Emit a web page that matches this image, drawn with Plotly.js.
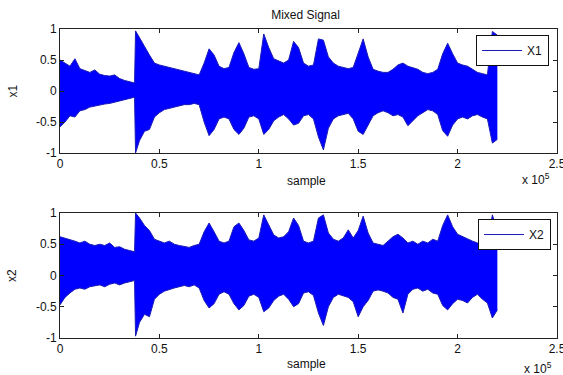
<!DOCTYPE html>
<html>
<head>
<meta charset="utf-8">
<script src="https://cdn.plot.ly/plotly-3.0.1.min.js"></script>
<style>html,body{margin:0;padding:0;background:#fff;}#chart{width:563px;height:375px;}</style>
</head>
<body>
<div id="chart"></div>
<script>
// sample index positions (shared by both signals)
const sample = [
  0, 2500, 5000, 7500,
  10000, 12500, 15000, 17500,
  20000, 22500, 25000, 27500,
  30000, 32500, 35000, 37500,
  38000,
  40000, 42500, 45000, 47500,
  50000, 52500, 55000, 57500,
  60000, 62500, 65000, 67500,
  70000, 72500, 75000, 77500,
  80000, 82500, 85000, 87500,
  90000, 92500, 95000, 97500,
  100000, 102500, 105000, 107500,
  110000, 112500, 115000, 117500,
  120000, 122500, 125000, 127500,
  130000, 132500, 135000, 137500,
  140000, 142500, 145000, 147500,
  150000, 152500, 155000, 157500,
  160000, 162500, 165000, 167500,
  170000, 172500, 175000, 177500,
  180000, 182500, 185000, 187500,
  190000, 192500, 195000, 197500,
  200000, 202500, 205000, 207500,
  210000, 212500, 215000, 217500,
  220000
];

// X1: upper / lower envelope of the mixed signal
const x1Upper = [
  0.50, 0.45, 0.40, 0.52,
  0.36, 0.33, 0.30, 0.34,
  0.27, 0.25, 0.24, 0.26,
  0.20, 0.17, 0.15, 0.13,
  0.97,
  0.85, 0.72, 0.58, 0.45,
  0.42, 0.40, 0.38, 0.36,
  0.34, 0.32, 0.30, 0.28,
  0.26, 0.45, 0.68, 0.58,
  0.40, 0.36, 0.38, 0.62,
  0.78, 0.60, 0.38, 0.35,
  0.36, 0.92, 0.70, 0.52,
  0.48, 0.45, 0.50, 0.80,
  0.70, 0.45, 0.40, 0.42,
  0.84, 0.82, 0.55, 0.45,
  0.40, 0.38, 0.36, 0.38,
  0.62, 0.84, 0.55, 0.35,
  0.32, 0.30, 0.30, 0.35,
  0.42, 0.45, 0.40, 0.38,
  0.35, 0.30, 0.28, 0.30,
  0.35, 0.60, 0.77, 0.60,
  0.45, 0.42, 0.40, 0.35,
  0.30, 0.28, 0.26, 0.96,
  0.90
];
const x1Lower = [
  -0.58, -0.50, -0.40, -0.42,
  -0.32, -0.30, -0.26, -0.24,
  -0.22, -0.21, -0.20, -0.18,
  -0.16, -0.14, -0.12, -0.10,
  -1.00,
  -0.80, -0.65, -0.62, -0.42,
  -0.35, -0.30, -0.28, -0.26,
  -0.24, -0.22, -0.22, -0.20,
  -0.22, -0.50, -0.72, -0.62,
  -0.45, -0.42, -0.45, -0.62,
  -0.70, -0.60, -0.42, -0.40,
  -0.45, -0.70, -0.62, -0.48,
  -0.42, -0.38, -0.45, -0.55,
  -0.52, -0.40, -0.38, -0.45,
  -0.74, -0.95, -0.60, -0.45,
  -0.40, -0.38, -0.36, -0.45,
  -0.65, -0.70, -0.55, -0.40,
  -0.35, -0.32, -0.35, -0.40,
  -0.38, -0.42, -0.56, -0.48,
  -0.40, -0.35, -0.30, -0.32,
  -0.38, -0.64, -0.73, -0.55,
  -0.45, -0.42, -0.45, -0.40,
  -0.38, -0.42, -0.45, -0.84,
  -0.78
];

// X2: upper / lower envelope
const x2Upper = [
  0.62, 0.60, 0.58, 0.55,
  0.52, 0.55, 0.50, 0.48,
  0.50, 0.48, 0.52, 0.45,
  0.46, 0.42, 0.40, 0.38,
  1.00,
  0.92, 0.80, 0.72, 0.58,
  0.55, 0.52, 0.55, 0.50,
  0.48, 0.46, 0.45, 0.48,
  0.50, 0.70, 0.84, 0.70,
  0.55, 0.52, 0.55, 0.78,
  0.84, 0.72, 0.57, 0.55,
  0.60, 0.97, 0.82, 0.65,
  0.60, 0.62, 0.70, 0.92,
  0.80, 0.55, 0.52, 0.55,
  0.92, 0.97, 0.68, 0.58,
  0.55, 0.60, 0.73, 0.60,
  0.72, 0.95, 0.68, 0.52,
  0.50, 0.48, 0.55, 0.62,
  0.66, 0.60, 0.52, 0.55,
  0.50, 0.55, 0.52, 0.58,
  0.55, 0.80, 0.97, 0.78,
  0.66, 0.62, 0.58, 0.55,
  0.52, 0.50, 0.50, 0.97,
  0.70
];
const x2Lower = [
  -0.47, -0.35, -0.28, -0.22,
  -0.20, -0.22, -0.18, -0.16,
  -0.15, -0.18, -0.14, -0.12,
  -0.15, -0.12, -0.10, -0.08,
  -0.97,
  -0.75, -0.62, -0.66, -0.38,
  -0.30, -0.25, -0.22, -0.20,
  -0.18, -0.16, -0.18, -0.15,
  -0.20, -0.40, -0.52, -0.45,
  -0.30, -0.26, -0.30, -0.45,
  -0.55, -0.48, -0.33, -0.30,
  -0.35, -0.58, -0.52, -0.40,
  -0.33, -0.30, -0.38, -0.50,
  -0.45, -0.28, -0.26, -0.32,
  -0.60, -0.80, -0.50, -0.35,
  -0.30, -0.32, -0.35, -0.42,
  -0.66, -0.50, -0.40, -0.25,
  -0.23, -0.25, -0.28, -0.35,
  -0.38, -0.60, -0.30, -0.22,
  -0.20, -0.25, -0.22, -0.28,
  -0.30, -0.48, -0.55, -0.45,
  -0.38, -0.40, -0.44, -0.35,
  -0.30, -0.38, -0.44, -0.68,
  -0.55
];

const xTickVals = [0, 50000, 100000, 150000, 200000, 250000];
const xTickText = ['0', '0.5', '1', '1.5', '2', '2.5'];
const yTickVals = [-1, -0.5, 0, 0.5, 1];
const yTickText = ['-1', '-0.5', '0', '0.5', '1'];
const seriesNames = ['X1', 'X2'];
const yLabels = ['x1', 'x2'];

const BLUE = '#0000ff';
const EDGE = '#1a1ab8';

function envelopeTraces(upper, lower, name, xa, ya, legendId) {
  return [
    {x: sample, y: upper, type: 'scatter', mode: 'lines', name: name,
     line: {color: EDGE, width: 1}, xaxis: xa, yaxis: ya, legend: legendId,
     hoverinfo: 'skip'},
    {x: sample, y: lower, type: 'scatter', mode: 'lines', name: name,
     line: {color: EDGE, width: 1}, fill: 'tonexty', fillcolor: BLUE,
     xaxis: xa, yaxis: ya, showlegend: false, hoverinfo: 'skip'}
  ];
}

const data = [
  ...envelopeTraces(x1Upper, x1Lower, seriesNames[0], 'x', 'y', 'legend'),
  ...envelopeTraces(x2Upper, x2Lower, seriesNames[1], 'x2', 'y2', 'legend2')
];

const FONT = 'Liberation Sans, Arial, Helvetica, sans-serif';

function xAxis(anchor) {
  return {
    anchor: anchor, domain: [0, 1], range: [0, 250000],
    tickvals: xTickVals, ticktext: xTickText,
    ticks: 'inside', ticklen: 4, tickwidth: 1, tickcolor: '#222',
    showline: true, linecolor: '#222', linewidth: 1, mirror: 'ticks',
    showgrid: false, zeroline: false, ticklabeloverflow: 'allow',
    tickfont: {family: FONT, size: 12, color: '#111'}
  };
}
function yAxis(anchor, domain) {
  return {
    anchor: anchor, domain: domain, range: [-1, 1],
    tickvals: yTickVals, ticktext: yTickText,
    ticks: 'inside', ticklen: 4, tickwidth: 1, tickcolor: '#222',
    showline: true, linecolor: '#222', linewidth: 1, mirror: 'ticks',
    showgrid: false, zeroline: false, ticklabeloverflow: 'allow',
    tickfont: {family: FONT, size: 12, color: '#111'}
  };
}

const annFont = {family: FONT, size: 12, color: '#111'};

const layout = {
  width: 563, height: 375,
  margin: {l: 60, r: 6, t: 29, b: 37, pad: 0},
  paper_bgcolor: '#fff', plot_bgcolor: '#fff',
  font: {family: FONT, size: 12, color: '#111'},
  title: {text: 'Mixed Signal', font: {family: FONT, size: 12, color: '#111'},
          xref: 'paper', x: 0.494, xanchor: 'center',
          yref: 'container', y: 0.96, yanchor: 'middle'},
  xaxis: xAxis('y'),
  yaxis: yAxis('x', [0.5987, 1]),
  xaxis2: xAxis('y2'),
  yaxis2: yAxis('x2', [0, 0.4045]),
  showlegend: true,
  legend: {x: 0.984, xanchor: 'right', y: 0.9806, yanchor: 'top',
           bgcolor: '#fff', bordercolor: '#111', borderwidth: 1,
           font: {family: FONT, size: 12, color: '#111'}, itemwidth: 40},
  legend2: {x: 0.988, xanchor: 'right', y: 0.385, yanchor: 'top',
           bgcolor: '#fff', bordercolor: '#111', borderwidth: 1,
           font: {family: FONT, size: 12, color: '#111'}, itemwidth: 40},
  annotations: [
    {text: yLabels[0], xref: 'paper', yref: 'paper', x: -0.0956, y: 0.7994,
     textangle: -90, showarrow: false, xanchor: 'center', yanchor: 'middle', font: annFont},
    {text: yLabels[1], xref: 'paper', yref: 'paper', x: -0.0956, y: 0.2023,
     textangle: -90, showarrow: false, xanchor: 'center', yanchor: 'middle', font: annFont},
    {text: 'sample', xref: 'paper', yref: 'paper', x: 0.495, y: 0.508,
     showarrow: false, xanchor: 'center', yanchor: 'middle', font: annFont},
    {text: 'sample', xref: 'paper', yref: 'paper', x: 0.495, y: -0.084,
     showarrow: false, xanchor: 'center', yanchor: 'middle', font: annFont},
    {text: 'x 10<sup>5</sup>', xref: 'paper', yref: 'paper', x: 0.958, y: 0.5146,
     showarrow: false, xanchor: 'center', yanchor: 'middle', font: annFont},
    {text: 'x 10<sup>5</sup>', xref: 'paper', yref: 'paper', x: 0.962, y: -0.097,
     showarrow: false, xanchor: 'center', yanchor: 'middle', font: annFont}
  ]
};

Plotly.newPlot('chart', data, layout, {displayModeBar: false, staticPlot: true});
</script>
</body>
</html>
